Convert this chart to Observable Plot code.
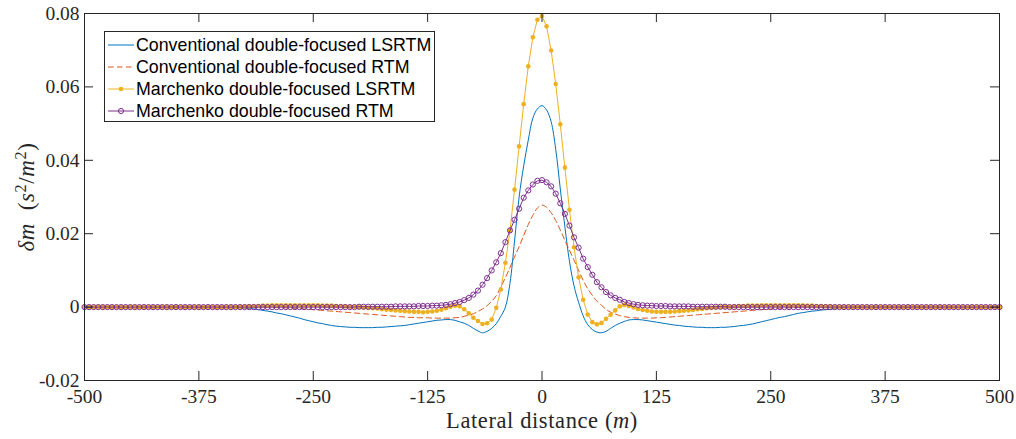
<!DOCTYPE html>
<html><head><meta charset="utf-8">
<script src="https://cdn.jsdelivr.net/npm/d3@7"></script>
<script src="https://cdn.jsdelivr.net/npm/@observablehq/plot@0.6"></script>
<style>
html,body{margin:0;padding:0;background:#fff;}
#wrap{position:relative;width:1016px;height:439px;overflow:hidden;}
.lbl{position:absolute;font-family:'Liberation Serif',serif;color:#262626;white-space:nowrap;line-height:1;}
.lbl sup{font-size:0.7em;vertical-align:0.45em;line-height:0;}
#legend{position:absolute;left:104px;top:31px;width:329px;height:89px;border:1px solid #262626;background:#fff;font-family:'Liberation Sans',Arial,sans-serif;font-size:17.8px;color:#000;}
.row{position:absolute;left:0;height:22px;width:100%;}
.row svg{position:absolute;left:2px;top:4px;}
.row span{position:absolute;left:31px;top:1px;line-height:20px;white-space:nowrap;}
</style></head><body><div id="wrap"></div><script>
// axis ticks
const xTicks = [-500, -375, -250, -125, 0, 125, 250, 375, 500];
const yTicks = [-0.02, 0, 0.02, 0.04, 0.06, 0.08];
const xDomain = [-500, 500];
const yDomain = [-0.02, 0.08];
// lateral sample positions (m), every 5 m
const lateral = d3.range(-500, 505, 5);
const seriesNames = ["Conventional double-focused LSRTM", "Conventional double-focused RTM", "Marchenko double-focused LSRTM", "Marchenko double-focused RTM"];
const seriesColors = ["#0072BD", "#D95319", "#EDB120", "#7E2F8E"];

// Conventional double-focused LSRTM
const convLSRTM = [
  0,0,0,0,0,0,0,0,0,0,
  0,0,0,0,0,0,0,0,0,0,
  0,0,0,0,0,0,0,0,0,0,
  0,-0.00005,-0.0001,-0.00015,-0.0002,-0.0003,-0.0004,-0.0005,-0.0007,-0.0009,
  -0.0011,-0.0013,-0.0016,-0.0018,-0.0021,-0.0024,-0.0027,-0.0030,-0.0034,-0.0037,
  -0.0040,-0.0043,-0.0045,-0.0048,-0.0050,-0.0052,-0.0053,-0.0054,-0.0055,-0.0055,
  -0.0056,-0.0056,-0.0056,-0.0056,-0.0055,-0.0055,-0.0054,-0.0053,-0.0052,-0.0051,
  -0.0050,-0.0048,-0.0046,-0.0044,-0.0042,-0.0040,-0.0038,-0.0036,-0.0035,-0.0034,
  -0.0034,-0.0036,-0.0040,-0.0044,-0.0050,-0.0058,-0.0065,-0.0070,-0.0066,-0.0058,
  -0.0045,-0.0025,0.0000,0.0065,0.0180,0.0300,0.0385,0.0455,0.0515,0.0540,
  0.0549,0.0537,0.0505,0.0430,0.0322,0.0219,0.0125,0.0058,0.0013,-0.0024,
  -0.0048,-0.0061,-0.0068,-0.0070,-0.0066,-0.0058,-0.0050,-0.0044,-0.0039,-0.0035,
  -0.0034,-0.0034,-0.0035,-0.0037,-0.0039,-0.0041,-0.0043,-0.0045,-0.0047,-0.0049,
  -0.0050,-0.0052,-0.0053,-0.0054,-0.0055,-0.0055,-0.0056,-0.0056,-0.0056,-0.0055,
  -0.0055,-0.0054,-0.0053,-0.0051,-0.0050,-0.0048,-0.0046,-0.0043,-0.0040,-0.0037,
  -0.0034,-0.0031,-0.0028,-0.0026,-0.0023,-0.0020,-0.0017,-0.0015,-0.0013,-0.0011,
  -0.0010,-0.0008,-0.0007,-0.0006,-0.0004,-0.0003,-0.0002,-0.0001,-0.00005,0,
  0,0,0,0,0,0,0,0,0,0,
  0,0,0,0,0,0,0,0,0,0,
  0,0,0,0,0,0,0,0,0,0,
  0
];
// Conventional double-focused RTM
const convRTM = [
  0,0,0,0,0,0,0,0,0,0,
  0,0,0,0,0,0,0,0,0,0,
  0,0,0,0,0,0,0,0,0,0,
  0,0,0,0,0,0,0,0,0,0,
  0,-0.00005,-0.0001,-0.00015,-0.0002,-0.00025,-0.0003,-0.0004,-0.0005,-0.0006,
  -0.0007,-0.0008,-0.0009,-0.0010,-0.0011,-0.0012,-0.0013,-0.0014,-0.0015,-0.0016,
  -0.0017,-0.0018,-0.0019,-0.0020,-0.0021,-0.0022,-0.0023,-0.0024,-0.0025,-0.0026,
  -0.0027,-0.0028,-0.0028,-0.0029,-0.0029,-0.0029,-0.0030,-0.0030,-0.0030,-0.0030,
  -0.0030,-0.0029,-0.0028,-0.0025,-0.0022,-0.0018,-0.0012,-0.0005,0.0004,0.0016,
  0.0031,0.0055,0.0080,0.0108,0.0137,0.0165,0.0195,0.0225,0.0250,0.0270,
  0.0278,0.0272,0.0257,0.0236,0.0210,0.0182,0.0155,0.0128,0.0100,0.0073,
  0.0050,0.0032,0.0016,0.0005,-0.0006,-0.0014,-0.0019,-0.0023,-0.0026,-0.0028,
  -0.0029,-0.0030,-0.0030,-0.0030,-0.0030,-0.0029,-0.0029,-0.0028,-0.0027,-0.0026,
  -0.0025,-0.0024,-0.0023,-0.0022,-0.0021,-0.0020,-0.0019,-0.0018,-0.0017,-0.0016,
  -0.0015,-0.0014,-0.0013,-0.0012,-0.0011,-0.0010,-0.0009,-0.0008,-0.0007,-0.0006,
  -0.0005,-0.0004,-0.0003,-0.00025,-0.0002,-0.00015,-0.0001,-0.00005,0,0,
  0,0,0,0,0,0,0,0,0,0,
  0,0,0,0,0,0,0,0,0,0,
  0,0,0,0,0,0,0,0,0,0,
  0,0,0,0,0,0,0,0,0,0,
  0
];
// Marchenko double-focused LSRTM
const marLSRTM = [
  0,0,0,0,0,0,0,0,0,0,
  0,0,0,0,0,0,0,0,0,0,
  0,0,0,0,0,0,0,0,0,0,
  0,0,0,0.00005,0.0001,0.00015,0.0002,0.0003,0.0003,0.0004,
  0.0004,0.0005,0.0005,0.0005,0.0005,0.0005,0.0005,0.0005,0.0005,0.0005,
  0.0005,0.0005,0.0004,0.0004,0.0004,0.0003,0.0003,0.0002,0.0001,0.0001,
  0.0000,-0.0001,-0.0002,-0.0003,-0.0004,-0.0006,-0.0007,-0.0008,-0.0009,-0.0010,
  -0.0011,-0.0012,-0.0013,-0.0013,-0.0014,-0.0013,-0.0012,-0.0010,-0.0007,-0.0003,
  0.0001,0.0004,0.0002,-0.0006,-0.0017,-0.0029,-0.0038,-0.0046,-0.0044,-0.0034,
  -0.0002,0.0048,0.0121,0.0209,0.0320,0.0438,0.0553,0.0656,0.0735,0.0783,
  0.0793,0.0765,0.0699,0.0608,0.0498,0.0380,0.0265,0.0163,0.0081,0.0020,
  -0.0020,-0.0041,-0.0047,-0.0043,-0.0032,-0.0021,-0.0009,0.0002,0.0006,0.0003,
  -0.0001,-0.0005,-0.0008,-0.0010,-0.0012,-0.0013,-0.0013,-0.0013,-0.0013,-0.0012,
  -0.0011,-0.0010,-0.0009,-0.0008,-0.0006,-0.0005,-0.0003,-0.0002,-0.0001,0.0000,
  0.0001,0.0001,0.0002,0.0003,0.0003,0.0004,0.0004,0.0004,0.0005,0.0005,
  0.0005,0.0005,0.0005,0.0005,0.0005,0.0005,0.0005,0.0005,0.0004,0.0004,
  0.0003,0.0003,0.0002,0.0002,0.0001,0.00005,0,0,0,0,
  0,0,0,0,0,0,0,0,0,0,
  0,0,0,0,0,0,0,0,0,0,
  0,0,0,0,0,0,0,0,0,0,
  0
];
// Marchenko double-focused RTM
const marRTM = [
  0,0,0,0,0,0,0,0,0,0,
  0,0,0,0,0,0,0,0,0,0,
  0,0,0,0,0,0,0,0,0,0,
  0,0,0,0,0,0,0,0,0,0,
  0,0,0,0,0,0,0,0,0,0,
  0,0,0,0,0,0,0,0,0,0,
  0.0001,0.0001,0.0001,0.0001,0.0001,0.0001,0.0001,0.0001,0.0002,0.0002,
  0.0002,0.0002,0.0002,0.0003,0.0003,0.0003,0.0004,0.0004,0.0005,0.0006,
  0.0008,0.0011,0.0014,0.0019,0.0025,0.0034,0.0045,0.0061,0.0079,0.0100,
  0.0122,0.0147,0.0177,0.0209,0.0238,0.0268,0.0298,0.0318,0.0334,0.0344,
  0.0346,0.0340,0.0329,0.0309,0.0283,0.0254,0.0222,0.0190,0.0162,0.0132,
  0.0109,0.0088,0.0068,0.0054,0.0041,0.0032,0.0025,0.0020,0.0014,0.0011,
  0.0008,0.0006,0.0005,0.0004,0.0004,0.0003,0.0003,0.0003,0.0002,0.0002,
  0.0002,0.0002,0.0002,0.0001,0.0001,0.0001,0.0001,0.0001,0.0001,0.0001,
  0.0001,0,0,0,0,0,0,0,0,0,
  0,0,0,0,0,0,0,0,0,0,
  0,0,0,0,0,0,0,0,0,0,
  0,0,0,0,0,0,0,0,0,0,
  0,0,0,0,0,0,0,0,0,0,
  0,0,0,0,0,0,0,0,0,0,
  0
];

const rows = lateral.map((x, i) => ({x, a: convLSRTM[i], b: convRTM[i], c: marLSRTM[i], d: marRTM[i]}));
const axisColor = "#262626";
const tickLen = 9;
const innerW = 1016 - 84 - 17, innerH = 439 - 13 - 59;
// tick length converted to data units so the inward ticks are drawn by the scales
const tY = (yDomain[1] - yDomain[0]) * tickLen / innerH;
const tX = (xDomain[1] - xDomain[0]) * tickLen / innerW;

const chart = Plot.plot({
  width: 1016, height: 439,
  marginLeft: 84, marginRight: 17, marginTop: 13, marginBottom: 59,
  x: {domain: xDomain},
  y: {domain: yDomain},
  style: {fontFamily: "'Liberation Serif', serif", fontSize: "19.5px", color: axisColor, background: "#fff", overflow: "visible"},
  marks: [
    Plot.line(rows, {x: "x", y: "a", stroke: seriesColors[0], strokeWidth: 1, curve: "catmull-rom"}),
    Plot.line(rows, {x: "x", y: "b", stroke: seriesColors[1], strokeWidth: 1, strokeDasharray: "5.5,3.5", curve: "catmull-rom"}),
    Plot.line(rows, {x: "x", y: "c", stroke: seriesColors[2], strokeWidth: 1}),
    Plot.dot(rows, {x: "x", y: "c", r: 2.3, fill: seriesColors[2], stroke: "none"}),
    Plot.line(rows, {x: "x", y: "d", stroke: seriesColors[3], strokeWidth: 1}),
    Plot.dot(rows, {x: "x", y: "d", r: 2.6, fill: "none", stroke: seriesColors[3], strokeWidth: 1}),
    // inward ticks (MATLAB style)
    Plot.ruleX(xTicks, {x: d => d, y1: yDomain[0], y2: yDomain[0] + tY, stroke: axisColor}),
    Plot.ruleX(xTicks, {x: d => d, y1: yDomain[1] - tY, y2: yDomain[1], stroke: axisColor}),
    Plot.ruleY(yTicks, {y: d => d, x1: xDomain[0], x2: xDomain[0] + tX, stroke: axisColor}),
    Plot.ruleY(yTicks, {y: d => d, x1: xDomain[1] - tX, x2: xDomain[1], stroke: axisColor}),
    Plot.frame({stroke: axisColor, strokeWidth: 1}),
    Plot.axisX({anchor: "bottom", ticks: xTicks, tickSize: 0, tickPadding: 9, tickFormat: d => String(d), label: null}),
    Plot.axisY({anchor: "left", ticks: yTicks, tickSize: 0, tickPadding: 5, tickFormat: d => String(d), label: null})
  ]
});

const wrap = document.getElementById("wrap");
wrap.appendChild(chart);

// axis labels
const xl = document.createElement("div");
xl.className = "lbl";
xl.style.cssText = "left:542px;top:410px;transform:translateX(-50%);font-size:22.5px;letter-spacing:0.6px;";
xl.innerHTML = "Lateral distance (<i>m</i>)";
wrap.appendChild(xl);

const yl = document.createElement("div");
yl.className = "lbl";
yl.style.cssText = "left:26px;top:197px;transform:translate(-50%,-50%) rotate(-90deg);font-size:23px;letter-spacing:0.6px;";
yl.innerHTML = "<i>δm</i>&nbsp;&nbsp;(<i>s</i><sup>2</sup>/<i>m</i><sup>2</sup>)";
wrap.appendChild(yl);

// legend
const lg = document.createElement("div");
lg.id = "legend";
const styles = [
  {dash: null, marker: null},
  {dash: "5.5,3.5", marker: null},
  {dash: null, marker: "dot"},
  {dash: null, marker: "circle"}
];
seriesNames.forEach((name, i) => {
  const r = document.createElement("div");
  r.className = "row";
  r.style.top = (1.5 + 22 * i) + "px";
  const s = styles[i];
  let svg = `<svg width="28" height="14"><line x1="1" x2="27" y1="7" y2="7" stroke="${seriesColors[i]}" stroke-width="1" ${s.dash ? `stroke-dasharray="${s.dash}"` : ""}/>`;
  if (s.marker === "dot") svg += `<circle cx="14" cy="7" r="2.3" fill="${seriesColors[i]}"/>`;
  if (s.marker === "circle") svg += `<circle cx="14" cy="7" r="2.6" fill="none" stroke="${seriesColors[i]}" stroke-width="1"/>`;
  svg += "</svg>";
  r.innerHTML = svg + `<span>${name}</span>`;
  lg.appendChild(r);
});
wrap.appendChild(lg);
</script></body></html>
